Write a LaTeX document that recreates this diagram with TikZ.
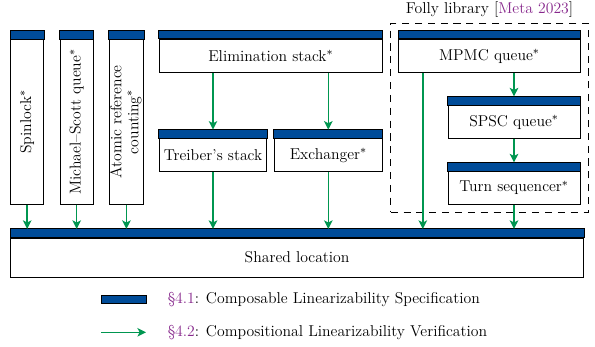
\documentclass[tikz,border=0pt]{standalone}
\usetikzlibrary{positioning,arrows.meta}
\definecolor{specblue}{RGB}{0,76,153}
\definecolor{verifgreen}{RGB}{0,150,80}
\definecolor{citepurple}{RGB}{135,40,140}
\begin{document}
\begin{tikzpicture}[x=0.7pt,y=-0.7pt,line width=0.7pt,font=\fontsize{11}{12}\selectfont]
            %
            % `comp' is a component box (white part only, the bar goes on top).
            % `tall' is used for the three upright boxes on the left.
            % `specbar' is the blue specification bar.
            % `verif' is used for the green verification arrows.
            % `folly' is used for the dashed library frame.
            \tikzstyle{comp} = [draw,fill=white,inner sep=0pt,align=center,minimum height=23.1pt]
            \tikzstyle{tall} = [comp,minimum width=23.1pt,minimum height=115.2pt]
            \tikzstyle{specbar} = [draw,fill=specblue]
            \tikzstyle{verif} = [verifgreen,line width=1pt,-{Stealth[length=6pt,width=6pt,inset=1.5pt]}]
            \tikzstyle{folly} = [draw,line width=0.6pt,dash pattern=on 5pt off 4pt,minimum width=138.3pt,minimum height=132.3pt,inner sep=0pt]
            \useasboundingbox (0,0) rectangle (595,347);
            %
            % Folly frame
            \node[folly] (folly) at (489.5,117.8) {};
            \node[above=0pt of folly] (follytitle) {Folly library [\textcolor{citepurple}{Meta 2023}]};
            %
            % Components
            \node[tall] (spin) at (27.2,121.8) {\rotatebox{90}{Spinlock$^*$}};
            \node[tall] (msq) at (76.7,121.8) {\rotatebox{90}{Michael--Scott queue$^*$}};
            \node[tall] (arc) at (126.4,121.8) {\rotatebox{90}{\begin{tabular}{@{}c@{}}Atomic reference\\counting$^*$\end{tabular}}};
            \node[comp,minimum width=156.1pt] (elim) at (270.8,56) {Elimination stack$^*$};
            \node[comp,minimum width=75.2pt] (treiber) at (213,155.2) {Treiber's stack};
            \node[comp,minimum width=75.6pt] (exch) at (328.3,155.2) {Exchanger$^*$};
            \node[comp,minimum width=126.9pt] (mpmc) at (489.4,56) {MPMC queue$^*$};
            \node[comp,minimum width=92.4pt] (spsc) at (514,122) {SPSC queue$^*$};
            \node[comp,minimum width=92.4pt] (turn) at (514,188) {Turn sequencer$^*$};
            \node[comp,minimum width=401pt,minimum height=27.3pt] (shared) at (297.1,257.5) {Shared location};
            %
            % Spec bars
            \foreach \n in {spin,msq,arc,elim,treiber,exch,mpmc,spsc,turn,shared}
                \draw[specbar] (\n.north west) rectangle ([yshift=6pt]\n.north east);
            %
            % Arrows
            \coordinate (sharedtop) at ([yshift=6pt]shared.north);
            \coordinate (mpmcout) at ([xshift=17.2pt]mpmc.south west);
            \foreach \n in {spin,msq,arc,treiber,exch,turn,mpmcout}
                \draw[verif] (\n.south) -- (\n.south |- sharedtop);
            \draw[verif] (treiber.north |- elim.south) -- ([yshift=6pt]treiber.north);
            \draw[verif] (exch.north |- elim.south) -- ([yshift=6pt]exch.north);
            \draw[verif] (spsc.north |- mpmc.south) -- ([yshift=6pt]spsc.north);
            \draw[verif] (spsc.south) -- ([yshift=6pt]turn.north);
            %
            % Legend
            \node[specbar,minimum width=31.5pt,minimum height=5.8pt,inner sep=0pt] (legspec) at (123.5,299.2) {};
            \node[anchor=west] (legspectext) at (162.5,299.5) {\textcolor{citepurple}{\S4.1}: Composable Linearizability Specification};
            \coordinate (legfrom) at (101,332.3);
            \coordinate (legto) at (146,332.3);
            \draw[verif] (legfrom) -- (legto);
            \node[anchor=west] (legveriftext) at (162.5,332.5) {\textcolor{citepurple}{\S4.2}: Compositional Linearizability Verification};
        \end{tikzpicture}
\end{document}
